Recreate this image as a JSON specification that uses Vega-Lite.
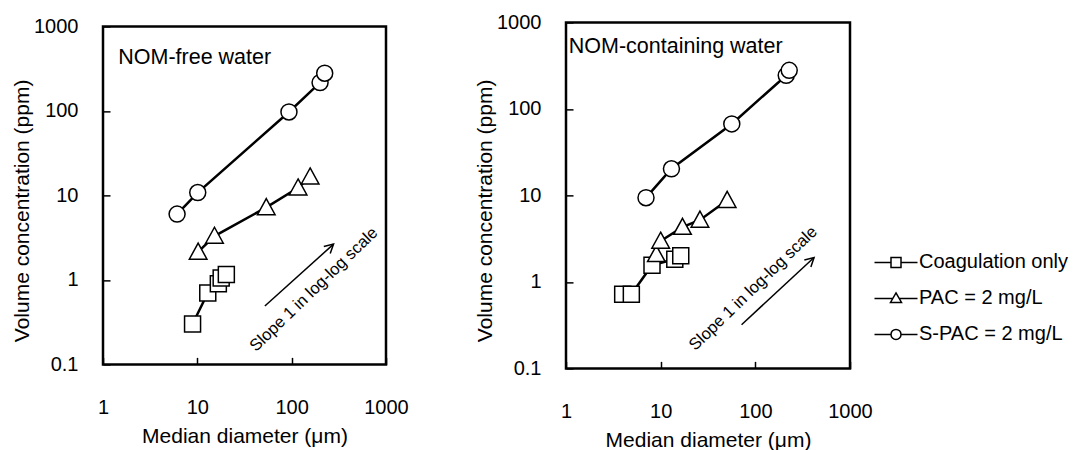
{
  "$schema": "https://vega.github.io/schema/vega-lite/v6.json",
  "background": "white",
  "padding": {"left": 9, "top": 11, "right": 5, "bottom": 5},
  "center": true,
  "spacing": 62,
  "config": {
    "font": "Liberation Sans",
    "view": {"stroke": "black", "strokeWidth": 2.5},
    "axis": {
      "domain": false, "grid": false,
      "labelFont": "Liberation Sans", "labelFontSize": 20, "labelColor": "black",
      "titleFont": "Liberation Sans", "titleFontSize": 21, "titleFontWeight": "normal", "titleColor": "black",
      "tickColor": "black", "tickWidth": 1.5, "tickSize": -7,
      "labelFlush": false, "labelOverlap": false
    },
    "axisX": {"labelPadding": 40, "titleY": 61},
    "axisY": {"labelPadding": 32, "titleX": -71}
  },
  "datasets": {
    "points": [
      {"panel": "NOM-free water", "series": "Coagulation only", "d": 8.9, "c": 0.30},
      {"panel": "NOM-free water", "series": "Coagulation only", "d": 12.9, "c": 0.70},
      {"panel": "NOM-free water", "series": "Coagulation only", "d": 16.7, "c": 0.90},
      {"panel": "NOM-free water", "series": "Coagulation only", "d": 17.9, "c": 1.05},
      {"panel": "NOM-free water", "series": "Coagulation only", "d": 20.3, "c": 1.16},
      {"panel": "NOM-free water", "series": "PAC = 2 mg/L", "d": 10.2, "c": 2.14},
      {"panel": "NOM-free water", "series": "PAC = 2 mg/L", "d": 15.2, "c": 3.3},
      {"panel": "NOM-free water", "series": "PAC = 2 mg/L", "d": 53.8, "c": 7.2},
      {"panel": "NOM-free water", "series": "PAC = 2 mg/L", "d": 117, "c": 12.3},
      {"panel": "NOM-free water", "series": "PAC = 2 mg/L", "d": 157, "c": 16.6},
      {"panel": "NOM-free water", "series": "S-PAC = 2 mg/L", "d": 6.1, "c": 6.0},
      {"panel": "NOM-free water", "series": "S-PAC = 2 mg/L", "d": 10.1, "c": 10.8},
      {"panel": "NOM-free water", "series": "S-PAC = 2 mg/L", "d": 93.6, "c": 97},
      {"panel": "NOM-free water", "series": "S-PAC = 2 mg/L", "d": 200, "c": 216},
      {"panel": "NOM-free water", "series": "S-PAC = 2 mg/L", "d": 224, "c": 279},
      {"panel": "NOM-containing water", "series": "Coagulation only", "d": 3.97, "c": 0.72},
      {"panel": "NOM-containing water", "series": "Coagulation only", "d": 4.9, "c": 0.72},
      {"panel": "NOM-containing water", "series": "Coagulation only", "d": 8.1, "c": 1.56},
      {"panel": "NOM-containing water", "series": "Coagulation only", "d": 14.1, "c": 1.83},
      {"panel": "NOM-containing water", "series": "Coagulation only", "d": 16.3, "c": 2.0},
      {"panel": "NOM-containing water", "series": "PAC = 2 mg/L", "d": 9.0, "c": 2.08},
      {"panel": "NOM-containing water", "series": "PAC = 2 mg/L", "d": 10.0, "c": 2.97},
      {"panel": "NOM-containing water", "series": "PAC = 2 mg/L", "d": 17.0, "c": 4.3},
      {"panel": "NOM-containing water", "series": "PAC = 2 mg/L", "d": 26.0, "c": 5.2},
      {"panel": "NOM-containing water", "series": "PAC = 2 mg/L", "d": 50.4, "c": 8.8},
      {"panel": "NOM-containing water", "series": "S-PAC = 2 mg/L", "d": 7.0, "c": 9.4},
      {"panel": "NOM-containing water", "series": "S-PAC = 2 mg/L", "d": 13.0, "c": 20.3},
      {"panel": "NOM-containing water", "series": "S-PAC = 2 mg/L", "d": 56.4, "c": 67},
      {"panel": "NOM-containing water", "series": "S-PAC = 2 mg/L", "d": 212, "c": 244},
      {"panel": "NOM-containing water", "series": "S-PAC = 2 mg/L", "d": 228, "c": 279}
    ],
    "labels": [
      {"panel": "NOM-free water", "d": 1.45, "c": 363, "label": "NOM-free water"},
      {"panel": "NOM-containing water", "d": 1.07, "c": 441, "label": "NOM-containing water"}
    ],
    "slopes": [
      {"panel": "NOM-free water", "d": 172, "c": 0.77, "label": "Slope 1 in log-log scale"},
      {"panel": "NOM-containing water", "d": 95, "c": 0.84, "label": "Slope 1 in log-log scale"}
    ],
    "arrows": [
      {"panel": "NOM-free water", "d1": 52, "c1": 0.49, "d2": 278, "c2": 2.65},
      {"panel": "NOM-containing water", "d1": 71.5, "c1": 0.32, "d2": 417, "c2": 1.91}
    ]
  },
  "resolve": {"scale": {"shape": "independent"}, "legend": {"shape": "independent"}},
  "hconcat": [
    {
      "width": 283,
      "height": 338,
      "layer": [
        {
          "data": {"name": "points"},
          "transform": [{"filter": "datum.panel === 'NOM-free water'"}],
          "mark": {"type": "line", "color": "black", "strokeWidth": 2.5},
          "encoding": {
            "x": {"field": "d", "type": "quantitative", "scale": {"type": "log", "domain": [1, 1000], "nice": false}, "axis": {"values": [1, 10, 100, 1000], "format": "~g", "title": "Median diameter (μm)"}},
            "y": {"field": "c", "type": "quantitative", "scale": {"type": "log", "domain": [0.1, 1000], "nice": false}, "axis": {"values": [0.1, 1, 10, 100, 1000], "format": "~g", "title": "Volume concentration (ppm)", "titleY": 184}},
            "detail": {"field": "series", "type": "nominal"}
          }
        },
        {
          "data": {"name": "arrows"},
          "transform": [{"filter": "datum.panel === 'NOM-free water'"}],
          "mark": {"type": "rule", "color": "black", "strokeWidth": 1.5},
          "encoding": {
            "x": {"field": "d1", "type": "quantitative"},
            "y": {"field": "c1", "type": "quantitative"},
            "x2": {"field": "d2"},
            "y2": {"field": "c2"}
          }
        },
        {
          "data": {"name": "arrows"},
          "transform": [{"filter": "datum.panel === 'NOM-free water'"}],
          "mark": {"type": "point", "shape": "M-1.1,-0.6L0,0L-1.1,0.6", "filled": false, "stroke": "black", "strokeWidth": 1.5, "size": 256, "angle": -42, "opacity": 1},
          "encoding": {
            "x": {"field": "d2", "type": "quantitative"},
            "y": {"field": "c2", "type": "quantitative"}
          }
        },
        {
          "data": {"name": "points"},
          "transform": [{"filter": "datum.panel === 'NOM-free water'"}],
          "mark": {"type": "point", "filled": true, "fill": "white", "stroke": "black", "strokeWidth": 1.5, "size": 256, "opacity": 1},
          "encoding": {
            "x": {"field": "d", "type": "quantitative"},
            "y": {"field": "c", "type": "quantitative"},
            "shape": {"field": "series", "type": "nominal", "scale": {"domain": ["Coagulation only", "PAC = 2 mg/L", "S-PAC = 2 mg/L"], "range": ["square", "M0,-1.1L1.1,0.9L-1.1,0.9Z", "circle"]}, "legend": null}
          }
        },
        {
          "data": {"name": "labels"},
          "transform": [{"filter": "datum.panel === 'NOM-free water'"}],
          "mark": {"type": "text", "align": "left", "baseline": "alphabetic", "fontSize": 21.5, "font": "Liberation Sans", "color": "black"},
          "encoding": {
            "x": {"field": "d", "type": "quantitative"},
            "y": {"field": "c", "type": "quantitative"},
            "text": {"field": "label"}
          }
        },
        {
          "data": {"name": "slopes"},
          "transform": [{"filter": "datum.panel === 'NOM-free water'"}],
          "mark": {"type": "text", "align": "center", "baseline": "middle", "fontSize": 16.5, "font": "Liberation Sans", "color": "black", "angle": -44},
          "encoding": {
            "x": {"field": "d", "type": "quantitative"},
            "y": {"field": "c", "type": "quantitative"},
            "text": {"field": "label"}
          }
        }
      ]
    },
    {
      "width": 284,
      "height": 346,
      "resolve": {"scale": {"shape": "independent"}},
      "layer": [
        {
          "data": {"name": "points"},
          "transform": [{"filter": "datum.panel === 'NOM-containing water'"}],
          "mark": {"type": "line", "color": "black", "strokeWidth": 2.5},
          "encoding": {
            "x": {"field": "d", "type": "quantitative", "scale": {"type": "log", "domain": [1, 1000], "nice": false}, "axis": {"values": [1, 10, 100, 1000], "format": "~g", "title": "Median diameter (μm)"}},
            "y": {"field": "c", "type": "quantitative", "scale": {"type": "log", "domain": [0.1, 1000], "nice": false}, "axis": {"values": [0.1, 1, 10, 100, 1000], "format": "~g", "title": "Volume concentration (ppm)", "titleY": 188}},
            "detail": {"field": "series", "type": "nominal"}
          }
        },
        {
          "data": {"name": "arrows"},
          "transform": [{"filter": "datum.panel === 'NOM-containing water'"}],
          "mark": {"type": "rule", "color": "black", "strokeWidth": 1.5},
          "encoding": {
            "x": {"field": "d1", "type": "quantitative"},
            "y": {"field": "c1", "type": "quantitative"},
            "x2": {"field": "d2"},
            "y2": {"field": "c2"}
          }
        },
        {
          "data": {"name": "arrows"},
          "transform": [{"filter": "datum.panel === 'NOM-containing water'"}],
          "mark": {"type": "point", "shape": "M-1.1,-0.6L0,0L-1.1,0.6", "filled": false, "stroke": "black", "strokeWidth": 1.5, "size": 256, "angle": -43, "opacity": 1},
          "encoding": {
            "x": {"field": "d2", "type": "quantitative"},
            "y": {"field": "c2", "type": "quantitative"}
          }
        },
        {
          "data": {"name": "points"},
          "transform": [{"filter": "datum.panel === 'NOM-containing water'"}],
          "mark": {"type": "point", "filled": true, "fill": "white", "stroke": "black", "strokeWidth": 1.5, "size": 256, "opacity": 1},
          "encoding": {
            "x": {"field": "d", "type": "quantitative"},
            "y": {"field": "c", "type": "quantitative"},
            "shape": {"field": "series", "type": "nominal", "scale": {"domain": ["Coagulation only", "PAC = 2 mg/L", "S-PAC = 2 mg/L"], "range": ["square", "M0,-1.1L1.1,0.9L-1.1,0.9Z", "circle"]}, "legend": null}
          }
        },
        {
          "data": {"name": "points"},
          "transform": [{"filter": "false"}],
          "mark": {"type": "point", "filled": true, "fill": "white", "stroke": "black", "strokeWidth": 1.5, "opacity": 1},
          "encoding": {
            "x": {"field": "d", "type": "quantitative"},
            "y": {"field": "c", "type": "quantitative"},
            "shape": {
              "field": "series", "type": "nominal",
              "scale": {"domain": ["Coagulation only", "PAC = 2 mg/L", "S-PAC = 2 mg/L"], "range": ["M-4.3,0L-1,0M-1,-1L1,-1L1,1L-1,1ZM1,0L4.3,0", "M-4.3,0L-0.65,0M0,-1.1L1.1,0.8L-1.1,0.8ZM0.65,0L4.3,0", "M-4.3,0L-1,0M1,0A1,1,0,1,1,-1,0A1,1,0,1,1,1,0ZM1,0L4.3,0"]},
              "legend": {
                "orient": "none", "legendX": 320, "legendY": 230, "title": null, "padding": 0,
                "symbolSize": 100,
                "labelFontSize": 20, "labelFont": "Liberation Sans", "labelColor": "black", "labelOffset": 13, "rowPadding": 16
              }
            }
          }
        },
        {
          "data": {"name": "labels"},
          "transform": [{"filter": "datum.panel === 'NOM-containing water'"}],
          "mark": {"type": "text", "align": "left", "baseline": "alphabetic", "fontSize": 21.5, "font": "Liberation Sans", "color": "black"},
          "encoding": {
            "x": {"field": "d", "type": "quantitative"},
            "y": {"field": "c", "type": "quantitative"},
            "text": {"field": "label"}
          }
        },
        {
          "data": {"name": "slopes"},
          "transform": [{"filter": "datum.panel === 'NOM-containing water'"}],
          "mark": {"type": "text", "align": "center", "baseline": "middle", "fontSize": 16.5, "font": "Liberation Sans", "color": "black", "angle": -44},
          "encoding": {
            "x": {"field": "d", "type": "quantitative"},
            "y": {"field": "c", "type": "quantitative"},
            "text": {"field": "label"}
          }
        }
      ]
    }
  ]
}
